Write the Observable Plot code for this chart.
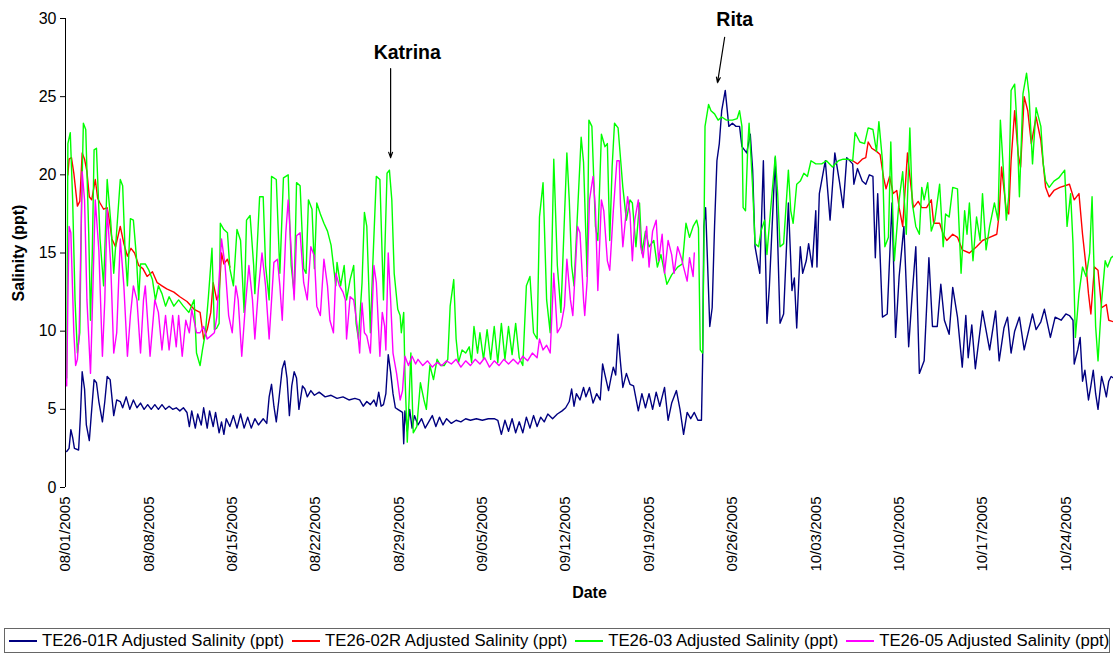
<!DOCTYPE html>
<html><head><meta charset="utf-8">
<script src="https://cdn.jsdelivr.net/npm/d3@7"></script>
<script src="https://cdn.jsdelivr.net/npm/@observablehq/plot@0.6"></script>
<style>
body{margin:0;background:#fff;font-family:"Liberation Sans",Arial,sans-serif;}
#chart{position:absolute;left:0;top:0;}
#legend{position:absolute;left:4px;top:628px;width:1106px;height:25px;border:1px solid #666;box-sizing:border-box;display:flex;align-items:center;font-size:16.7px;color:#000;white-space:nowrap;}
.item{display:flex;align-items:center;margin-left:4px;margin-right:4px;}
.sw{width:28px;height:0;border-top:2px solid;margin-right:5px;}
</style></head><body>
<div id="chart"></div><div id="legend"></div>
<script>
// ---- series names & colours ----
const seriesNames = ["TE26-01R Adjusted Salinity (ppt)","TE26-02R Adjusted Salinity (ppt)","TE26-03 Adjusted Salinity (ppt)","TE26-05 Adjusted Salinity (ppt)"];
const seriesColors = ["#000080","#FF0000","#00FF00","#FF00FF"];
// x tick labels and y ticks
const xTickLabels = ["08/01/2005","08/08/2005","08/15/2005","08/22/2005","08/29/2005","09/05/2005","09/12/2005","09/19/2005","09/26/2005","10/03/2005","10/10/2005","10/17/2005","10/24/2005"];
const yTicks = [0,5,10,15,20,25,30];
// annotations: [label, day offset from 08/01/2005, salinity]
const annotationLabels = [["Katrina",28.7,27.8],["Rita",56.2,29.9]];
const annotationArrows = [[27.3,26.8,27.3,21.1],[55.35,28.8,54.75,25.9]];

// values: [days since 08/01/2005, salinity ppt]
const te2601R = [[0.1,2.3],[0.3,2.5],[0.45,3.7],[0.6,3.2],[0.75,2.5],[1.1,2.4],[1.25,4.5],[1.4,7.4],[1.6,6.3],[1.75,4.0],[2.0,3.0],[2.15,4.5],[2.4,6.9],[2.6,6.7],[2.8,5.5],[3.1,4.2],[3.3,5.5],[3.5,7.1],[3.75,6.9],[4.05,4.6],[4.3,5.6],[4.6,5.5],[4.8,5.1],[5.1,5.8],[5.4,5.0],[5.7,5.6],[6.0,5.1],[6.3,5.4],[6.6,5.0],[6.9,5.3],[7.2,5.0],[7.5,5.3],[7.8,5.0],[8.1,5.3],[8.4,5.0],[8.7,5.2],[9.0,5.0],[9.3,5.1],[9.6,4.9],[9.9,5.1],[10.2,4.8],[10.4,3.9],[10.6,4.9],[10.9,3.8],[11.1,4.7],[11.4,4.0],[11.6,5.1],[11.9,3.8],[12.1,4.9],[12.4,3.9],[12.6,4.8],[12.9,3.5],[13.1,4.2],[13.3,3.4],[13.5,4.4],[13.8,3.9],[14.1,4.6],[14.4,3.8],[14.7,4.7],[15.0,3.8],[15.3,4.5],[15.6,3.8],[15.9,4.4],[16.2,4.0],[16.6,4.4],[16.9,4.1],[17.1,5.8],[17.3,6.6],[17.5,5.2],[17.7,4.2],[17.9,5.5],[18.2,7.6],[18.4,8.1],[18.6,7.0],[18.8,4.6],[19.0,6.5],[19.2,7.4],[19.4,7.0],[19.6,5.0],[19.9,6.5],[20.1,6.3],[20.3,5.8],[20.6,6.2],[20.9,5.9],[21.3,6.1],[21.8,5.8],[22.3,5.9],[22.8,5.7],[23.3,5.8],[23.8,5.6],[24.3,5.7],[24.7,5.6],[25.0,5.2],[25.3,5.5],[25.6,5.3],[25.9,5.6],[26.1,5.2],[26.3,6.1],[26.5,5.2],[26.7,5.3],[26.9,6.0],[27.1,8.5],[27.3,7.4],[27.5,6.0],[27.7,5.1],[27.9,5.0],[28.1,4.9],[28.3,4.8],[28.4,2.8],[28.5,4.9],[28.7,3.6],[28.9,5.0],[29.1,3.8],[29.3,4.6],[29.6,4.0],[29.9,4.4],[30.2,3.8],[30.5,4.2],[30.8,4.6],[31.1,3.9],[31.4,4.5],[31.7,4.0],[32.0,4.4],[32.4,4.1],[32.8,4.3],[33.2,4.2],[33.6,4.4],[34.0,4.3],[34.5,4.4],[35.0,4.3],[35.5,4.4],[36.0,4.4],[36.3,4.3],[36.6,3.4],[36.9,4.3],[37.2,3.6],[37.5,4.4],[37.8,3.5],[38.1,4.2],[38.4,3.5],[38.7,4.5],[39.0,3.8],[39.3,4.6],[39.6,3.9],[39.9,4.5],[40.2,4.2],[40.5,4.7],[40.9,4.4],[41.3,4.7],[41.7,4.9],[42.0,5.1],[42.3,5.5],[42.5,6.3],[42.7,5.2],[42.9,6.0],[43.2,5.6],[43.5,6.4],[43.7,5.8],[44.0,6.4],[44.3,5.4],[44.6,6.0],[44.9,5.6],[45.1,7.9],[45.3,7.2],[45.6,6.2],[45.8,7.0],[46.0,7.7],[46.2,7.2],[46.4,9.8],[46.6,8.0],[46.8,6.4],[47.1,7.3],[47.4,6.6],[47.7,6.5],[48.1,4.9],[48.4,6.0],[48.7,5.1],[49.0,6.0],[49.3,5.0],[49.6,6.1],[49.9,5.2],[50.3,6.4],[50.6,4.3],[50.9,5.4],[51.3,6.2],[51.6,5.0],[51.9,3.4],[52.2,4.8],[52.5,4.4],[52.8,4.8],[53.1,4.3],[53.4,4.3],[53.5,8.1],[53.6,16.7],[53.75,17.9],[54.1,10.3],[54.3,11.5],[54.5,16.7],[54.7,20.9],[54.9,22.0],[55.1,24.1],[55.4,25.4],[55.7,23.1],[56.0,23.3],[56.3,23.1],[56.6,23.1],[56.8,21.8],[57.2,21.4],[57.5,22.6],[57.7,20.3],[57.9,15.4],[58.3,13.7],[58.6,20.9],[58.9,10.5],[59.1,12.8],[59.6,21.1],[60.0,10.5],[60.3,11.1],[60.7,18.2],[61.0,12.6],[61.2,13.4],[61.4,10.2],[61.7,15.4],[61.9,13.7],[62.2,14.5],[62.4,15.6],[62.7,14.1],[63.0,17.7],[63.1,14.1],[63.3,18.8],[63.8,20.9],[64.2,17.1],[64.6,21.4],[65.0,19.5],[65.3,17.9],[65.6,21.1],[66.1,20.7],[66.2,19.4],[66.5,20.4],[66.9,19.6],[67.2,19.4],[67.5,20.0],[67.8,19.9],[68.0,14.7],[68.2,18.8],[68.6,10.9],[69.0,11.1],[69.4,18.2],[69.7,9.6],[70.0,13.5],[70.4,16.7],[70.8,9.0],[71.1,12.4],[71.4,15.4],[71.7,7.3],[72.1,8.1],[72.5,14.7],[72.8,10.3],[73.2,10.3],[73.5,13.0],[73.8,10.7],[74.2,9.8],[74.5,12.8],[74.9,10.9],[75.3,7.7],[75.6,11.0],[75.8,8.3],[76.1,10.4],[76.4,7.6],[77.0,11.3],[77.6,8.8],[78.1,11.3],[78.4,8.1],[78.8,10.2],[79.1,10.9],[79.4,8.6],[79.7,10.0],[80.1,10.9],[80.5,8.8],[80.8,9.8],[81.2,11.1],[81.5,10.1],[81.9,10.6],[82.2,11.4],[82.7,9.6],[83.1,10.9],[83.6,10.7],[84.0,11.1],[84.3,11.0],[84.6,10.7],[84.7,7.9],[85.0,8.8],[85.2,9.6],[85.4,6.8],[85.6,7.5],[85.9,5.6],[86.1,6.5],[86.3,7.5],[86.5,6.0],[86.7,5.0],[87.0,7.1],[87.2,6.5],[87.4,5.8],[87.6,6.8],[87.8,7.1],[88.0,7.0]];

const te2602R_early = [[0.2,20.0],[0.3,21.0],[0.5,21.1],[0.7,20.1],[1.0,18.0],[1.2,18.3],[1.4,21.4],[1.6,21.0],[1.8,20.2],[2.0,18.6],[2.2,18.4],[2.5,19.7],[2.7,18.5],[2.9,18.2],[3.2,17.8],[3.5,17.9],[3.7,17.0],[3.9,15.9],[4.2,15.4],[4.6,16.7],[4.9,15.6],[5.2,14.8],[5.5,15.3],[5.8,15.0],[6.15,14.2],[6.5,14.0],[6.85,13.5],[7.3,13.8],[7.7,13.1],[8.1,12.9],[8.5,12.7],[9.1,12.5],[9.6,12.2],[10.2,11.9],[10.8,11.4],[11.3,11.2],[11.6,9.5],[11.9,10.1],[12.2,11.2],[12.4,13.1],[12.7,12.0],[12.9,12.4],[13.1,15.0],[13.3,14.3],[13.6,14.6],[13.8,14.1]];

const te2602R_late = [[66.1,20.9],[66.5,20.7],[66.9,21.0],[67.2,21.1],[67.4,22.1],[67.7,21.7],[68.1,21.5],[68.4,21.3],[68.7,19.8],[68.9,19.1],[69.2,19.9],[69.5,18.8],[69.8,19.0],[70.0,17.9],[70.3,16.7],[70.7,21.4],[70.9,19.9],[71.2,17.9],[71.6,18.3],[71.9,17.9],[72.3,17.9],[72.7,18.4],[72.9,16.9],[73.4,16.9],[73.7,16.2],[74.0,15.8],[74.5,16.2],[74.9,16.0],[75.3,15.2],[75.9,15.0],[76.5,15.4],[77.0,15.8],[77.6,16.0],[78.2,16.2],[78.4,17.5],[78.6,20.5],[79.0,17.7],[79.2,17.5],[79.4,20.9],[79.7,24.1],[80.0,21.3],[80.2,20.5],[80.5,25.0],[80.8,24.1],[81.1,22.0],[81.5,23.7],[81.9,22.2],[82.3,19.2],[82.6,18.6],[83.0,19.0],[83.5,19.2],[84.3,19.4],[84.7,18.4],[85.1,18.8],[85.4,16.2],[85.7,14.1],[85.9,12.4],[86.1,11.1],[86.4,14.1],[86.7,13.9],[87.0,11.5],[87.4,11.7],[87.6,10.7],[88.0,10.6]];

const te2603 = [[0.1,7.0],[0.2,22.0],[0.4,22.7],[0.6,18.4],[0.8,12.0],[1.0,8.6],[1.2,9.9],[1.35,18.0],[1.5,23.3],[1.7,22.9],[1.95,16.3],[2.1,10.7],[2.25,15.0],[2.4,21.6],[2.6,21.7],[2.9,15.9],[3.2,12.9],[3.5,19.7],[3.8,17.0],[4.05,13.7],[4.6,19.7],[4.8,19.3],[5.0,15.2],[5.2,12.9],[5.45,17.2],[5.7,17.1],[5.95,14.8],[6.15,12.0],[6.3,14.3],[6.7,14.3],[7.0,13.9],[7.3,13.3],[7.55,12.0],[7.8,12.9],[8.1,12.4],[8.4,11.6],[8.7,12.2],[9.1,11.6],[9.5,12.0],[9.9,11.6],[10.35,11.2],[10.8,12.0],[11.0,8.6],[11.3,7.8],[11.5,8.8],[11.75,9.9],[12.0,12.2],[12.3,15.3],[12.5,10.1],[12.7,10.2],[12.9,10.5],[13.0,16.9],[13.3,16.5],[13.6,16.3],[13.8,14.0],[14.1,12.9],[14.4,16.5],[14.7,15.8],[15.0,11.2],[15.2,17.1],[15.5,17.4],[15.8,14.2],[15.9,12.4],[16.3,18.6],[16.6,18.6],[16.8,14.2],[17.1,12.0],[17.3,19.9],[17.7,19.7],[18.0,13.7],[18.3,19.8],[18.7,20.0],[18.95,14.2],[19.2,12.4],[19.4,19.5],[19.7,19.3],[20.0,14.0],[20.2,13.7],[20.4,18.4],[20.7,17.8],[20.9,14.0],[21.1,18.2],[21.4,17.5],[21.7,16.9],[22.0,16.4],[22.3,15.5],[22.7,12.9],[22.8,14.4],[23.1,12.9],[23.4,14.2],[23.6,12.0],[23.9,13.3],[24.2,14.2],[24.4,10.5],[24.6,9.5],[24.9,13.1],[25.1,17.6],[25.3,16.7],[25.6,9.9],[25.8,14.2],[26.1,19.9],[26.4,19.7],[26.7,12.0],[27.0,20.1],[27.2,20.3],[27.4,18.4],[27.6,13.7],[27.9,11.4],[28.1,11.0],[28.2,9.9],[28.4,11.2],[28.5,7.3],[28.7,2.9],[28.85,5.6],[29.0,8.6],[29.2,3.5],[29.5,3.9],[29.8,6.7],[30.1,5.6],[30.3,5.0],[30.6,7.8],[30.9,6.9],[31.2,8.2],[31.5,7.8],[31.8,7.8],[32.1,8.2],[32.3,11.6],[32.6,13.3],[32.8,9.5],[33.0,8.0],[33.3,8.8],[33.6,8.6],[33.9,9.0],[34.1,8.0],[34.3,10.3],[34.6,8.6],[34.8,9.9],[35.1,8.2],[35.4,10.1],[35.7,8.2],[36.0,10.3],[36.3,8.0],[36.6,10.5],[36.9,8.2],[37.2,10.3],[37.5,8.5],[37.8,10.5],[38.1,8.3],[38.4,7.8],[38.7,12.9],[39.0,13.5],[39.3,9.9],[39.6,9.5],[39.8,17.3],[40.1,19.5],[40.4,12.0],[40.7,9.9],[41.0,21.0],[41.3,14.2],[41.6,11.2],[42.1,21.4],[42.3,18.4],[42.5,14.2],[42.7,12.9],[43.3,22.4],[43.5,20.8],[43.7,16.0],[43.8,13.5],[43.95,23.5],[44.2,23.1],[44.5,16.7],[44.7,15.8],[45.0,22.6],[45.3,21.8],[45.5,22.0],[45.7,15.8],[45.9,20.5],[46.1,23.3],[46.4,23.0],[46.8,19.2],[47.1,17.1],[47.4,18.4],[47.6,18.2],[47.9,15.4],[48.2,18.2],[48.4,15.0],[48.7,16.4],[49.0,15.4],[49.4,15.8],[49.7,14.1],[50.0,14.9],[50.5,13.0],[50.9,13.6],[51.4,14.1],[51.8,14.3],[52.1,16.9],[52.4,16.0],[52.7,16.7],[53.0,17.1],[53.15,16.6],[53.3,8.8],[53.5,8.6],[53.6,15.0],[53.7,23.1],[54.0,24.5],[54.2,24.1],[54.5,23.9],[54.8,23.5],[55.1,23.7],[55.5,23.5],[56.0,23.5],[56.4,23.6],[56.6,24.1],[56.8,23.1],[56.9,17.9],[57.1,17.7],[57.3,22.0],[57.4,23.3],[57.7,19.2],[57.9,15.6],[58.2,15.4],[58.4,16.4],[58.7,17.1],[58.9,14.9],[59.2,17.7],[59.6,21.2],[59.8,18.8],[60.0,15.4],[60.3,15.6],[60.7,20.3],[60.9,17.7],[61.1,16.9],[61.4,19.4],[61.7,19.6],[62.0,20.1],[62.3,19.9],[62.6,20.9],[63.0,20.7],[63.5,20.7],[63.9,20.9],[64.4,20.5],[64.9,20.9],[65.3,21.0],[65.7,21.0],[66.1,20.9],[66.3,22.7],[66.7,22.1],[67.1,22.0],[67.4,23.0],[67.8,22.9],[68.1,21.5],[68.3,23.4],[68.6,20.9],[68.8,15.4],[69.1,16.0],[69.3,22.1],[69.5,16.7],[69.6,14.5],[70.0,18.4],[70.3,20.2],[70.6,16.2],[70.9,23.0],[71.1,18.2],[71.4,16.7],[71.7,16.2],[71.9,19.2],[72.1,18.4],[72.4,19.5],[72.7,16.4],[73.0,17.1],[73.4,19.4],[73.7,15.4],[73.9,17.5],[74.2,17.3],[74.5,19.2],[74.9,19.1],[75.2,13.7],[75.5,17.7],[75.7,16.2],[75.9,18.2],[76.2,14.5],[76.5,17.3],[76.8,15.8],[77.0,18.8],[77.3,15.2],[77.6,16.7],[78.0,18.2],[78.3,17.1],[78.5,23.5],[78.7,21.0],[79.0,17.1],[79.2,18.6],[79.4,25.4],[79.7,25.8],[79.9,23.1],[80.1,18.6],[80.4,25.2],[80.7,26.5],[80.9,25.2],[81.2,20.7],[81.5,24.3],[81.9,23.1],[82.1,20.7],[82.3,19.6],[82.6,19.2],[83.0,19.6],[83.4,19.8],[83.9,20.3],[84.1,16.7],[84.4,18.8],[84.6,15.6],[84.8,9.6],[85.1,12.4],[85.4,14.1],[85.7,13.5],[86.0,15.0],[86.2,18.6],[86.5,10.3],[86.7,8.1],[87.0,11.9],[87.3,14.5],[87.5,14.1],[87.8,14.7],[88.0,14.8]];

const te2605 = [[0.1,6.5],[0.2,12.0],[0.3,16.7],[0.45,16.3],[0.7,9.9],[0.85,7.8],[1.0,8.2],[1.15,9.9],[1.4,20.2],[1.6,18.4],[1.8,12.0],[2.1,7.3],[2.2,9.9],[2.5,18.4],[2.8,15.2],[3.1,8.4],[3.3,12.0],[3.5,17.8],[3.8,14.2],[4.05,8.6],[4.3,9.9],[4.6,15.9],[4.9,12.9],[5.2,8.4],[5.45,11.0],[5.7,12.9],[6.0,12.0],[6.3,8.6],[6.55,12.0],[6.7,12.9],[7.1,8.4],[7.5,12.0],[7.8,11.2],[8.1,8.8],[8.4,11.0],[8.7,8.8],[9.0,11.0],[9.3,9.0],[9.5,11.0],[9.8,8.4],[10.1,10.7],[10.4,9.9],[10.6,11.4],[11.0,9.9],[11.3,9.9],[11.6,10.3],[11.9,9.5],[12.2,9.7],[12.5,9.9],[12.7,10.9],[13.1,15.9],[13.4,14.2],[13.7,11.0],[14.0,9.9],[14.3,12.9],[14.5,12.0],[14.8,8.4],[15.1,11.6],[15.4,14.2],[15.7,12.0],[15.9,9.5],[16.2,12.7],[16.5,15.0],[16.8,12.9],[17.1,9.5],[17.5,14.4],[17.8,14.6],[18.0,12.9],[18.2,10.7],[18.5,16.3],[18.7,18.4],[19.0,14.6],[19.2,12.0],[19.4,16.1],[19.7,16.3],[20.0,13.1],[20.3,12.0],[20.6,15.4],[20.9,14.8],[21.1,11.6],[21.4,11.0],[21.7,14.6],[22.0,12.9],[22.2,10.7],[22.5,9.9],[22.7,13.7],[23.0,12.9],[23.3,12.5],[23.5,12.0],[23.6,9.5],[23.9,12.2],[24.2,12.0],[24.5,10.3],[24.7,8.6],[24.9,11.8],[25.1,9.9],[25.3,9.7],[25.6,8.6],[25.9,14.2],[26.1,13.1],[26.4,8.4],[26.6,11.2],[26.8,10.3],[26.9,8.8],[27.1,15.0],[27.3,12.0],[27.5,8.6],[27.8,7.3],[28.1,5.6],[28.3,6.2],[28.5,8.4],[28.8,7.8],[29.1,8.4],[29.4,7.9],[29.6,8.2],[30.0,7.8],[30.4,8.1],[30.8,7.7],[31.2,8.0],[31.6,7.8],[32.0,8.1],[32.4,7.9],[32.8,8.2],[33.2,7.7],[33.6,8.1],[34.0,7.8],[34.4,8.2],[34.8,7.9],[35.2,8.3],[35.6,7.7],[36.0,8.1],[36.4,7.8],[36.8,8.2],[37.2,7.9],[37.6,8.2],[38.0,7.9],[38.4,8.4],[38.8,8.1],[39.2,8.6],[39.6,8.3],[39.8,9.5],[40.1,8.8],[40.4,9.1],[40.7,8.6],[41.0,13.7],[41.3,9.9],[41.6,10.3],[41.9,11.6],[42.1,14.6],[42.4,12.0],[42.6,11.0],[43.0,16.7],[43.2,16.3],[43.5,12.0],[43.6,11.0],[43.8,13.2],[44.0,18.4],[44.3,19.9],[44.5,17.8],[44.7,12.6],[45.0,18.4],[45.2,17.7],[45.5,14.5],[45.7,13.9],[46.0,17.7],[46.3,20.9],[46.5,20.9],[46.6,18.1],[46.8,15.4],[47.2,18.6],[47.4,17.5],[47.6,14.5],[47.8,17.1],[48.1,18.4],[48.3,15.4],[48.5,14.7],[48.8,16.7],[49.0,14.1],[49.3,16.4],[49.6,17.1],[49.8,14.5],[50.1,16.2],[50.3,13.7],[50.6,15.8],[50.9,14.9],[51.1,13.7],[51.4,15.4],[51.7,14.7],[51.9,14.1],[52.2,13.2],[52.4,14.7],[52.7,13.5],[52.8,15.0]];

// ---- build ----
const t0 = Date.UTC(2005, 7, 1);
const day = d => new Date(t0 + d * 86400000);
const parseMDY = d3.utcParse("%m/%d/%Y");
const fmtMDY = d3.utcFormat("%m/%d/%Y");
const toRows = arr => arr.map(([d, v]) => ({date: day(d), value: v}));
const tickDates = xTickLabels.map(parseMDY);

const lineSets = [
  [te2601R, 0], [te2602R_early, 1], [te2602R_late, 1], [te2603, 2], [te2605, 3]
];

const plot = Plot.plot({
  width: 1113, height: 616,
  marginLeft: 65, marginRight: 0, marginTop: 18, marginBottom: 129,
  x: {type: "utc", domain: [day(0), day(88)]},
  y: {domain: [0, 30]},
  style: {fontFamily: "'Liberation Sans', Arial, sans-serif", background: "white", color: "black"},
  marks: [
    Plot.ruleX([day(0)], {y1: 0, y2: 30, stroke: "black", strokeWidth: 1}),
    Plot.axisY({ticks: yTicks, tickSize: 5, tickPadding: 4, fontSize: 16, label: null}),
    Plot.axisX({ticks: tickDates, tickFormat: fmtMDY, tickRotate: -90, tickSize: 0, tickPadding: 9, fontSize: 15, label: null}),
    Plot.text(["Date"], {frameAnchor: "bottom", dy: 110, fontWeight: "bold", fontSize: 16}),
    Plot.text(["Salinity (ppt)"], {frameAnchor: "left", textAnchor: "middle", dx: -47, rotate: -90, fontWeight: "bold", fontSize: 16}),
    ...lineSets.map(([arr, i]) => Plot.line(toRows(arr), {x: "date", y: "value", stroke: seriesColors[i], strokeWidth: 1.4})),
    Plot.arrow(annotationArrows, {x1: d => day(d[0]), y1: d => d[1], x2: d => day(d[2]), y2: d => d[3], stroke: "black", strokeWidth: 1.2, headLength: 7, headAngle: 40}),
    Plot.text(annotationLabels, {x: d => day(d[1]), y: d => d[2], text: d => d[0], fontWeight: "bold", fontSize: 19.5})
  ]
});
document.getElementById("chart").appendChild(plot);

const legend = document.getElementById("legend");
seriesNames.forEach((n, i) => {
  const it = document.createElement("div"); it.className = "item";
  const sw = document.createElement("div"); sw.className = "sw"; sw.style.borderTopColor = seriesColors[i];
  const tx = document.createElement("span"); tx.textContent = n;
  it.appendChild(sw); it.appendChild(tx); legend.appendChild(it);
});
</script>
</body></html>
